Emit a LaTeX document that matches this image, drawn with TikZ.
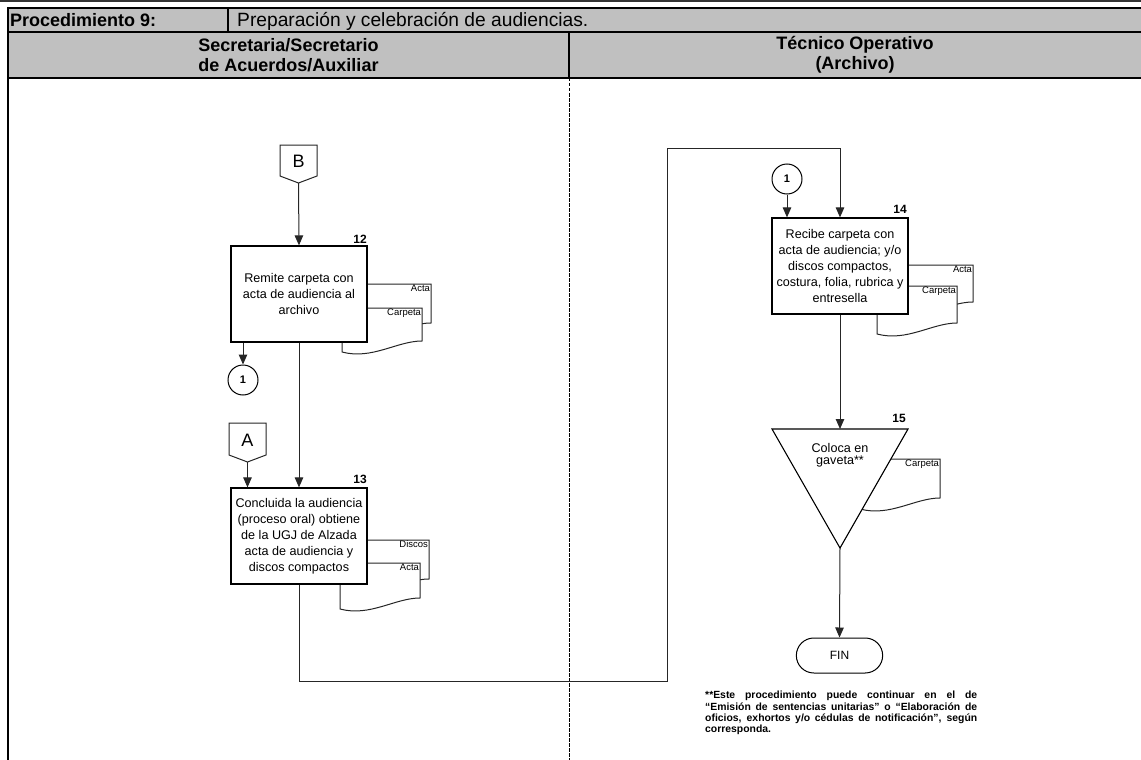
\documentclass[tikz,border=0pt]{standalone}
\usepackage{fontspec}
\setmainfont{Liberation Sans}
\usetikzlibrary{arrows.meta,shapes.misc}
\definecolor{hdrgray}{HTML}{C0C0C0}
\definecolor{topline}{HTML}{333333}
% document symbol: name, left, top, right, base of wave, label
\newcommand\docsheet[6]{%
  \draw[docline] (#2,#3) -- (#4,#3) -- (#4,#5-6)
    .. controls (#4-25,#5-6) and (#2+30,#5+13) .. (#2,#5+5) -- cycle;
  \node[doclabel] (#1) at (#4,#3) {#6};
}
\begin{document}
\begin{tikzpicture}[x=1pt,y=-1pt,
  frame/.style={line width=1.4pt,black},
  lanesep/.style={line width=0.8pt,black,dash pattern=on 3.5pt off 1.5pt},
  flow/.style={line width=1pt,black!85},
  arr/.style={flow,-{Triangle[length=10pt,width=8.5pt]}},
  stepbox/.style={draw,line width=1.2pt,fill=white,minimum width=136pt,minimum height=96pt,
    align=center,inner sep=2pt,font=\fontsize{12.6}{16}\selectfont},
  stepnum/.style={font=\bfseries\fontsize{12}{14}\selectfont,anchor=base east,inner sep=0pt},
  doclabel/.style={font=\fontsize{9.5}{10}\selectfont,anchor=north east,inner sep=0.8pt},
  docline/.style={line width=1pt,black!85,fill=white},
  offpage/.style={flow,fill=white},
  letter/.style={font=\fontsize{18}{20}\selectfont,inner sep=0pt},
  oncirc/.style={circle,draw,line width=1pt,fill=white,minimum size=30pt,inner sep=0pt,
    font=\bfseries\fontsize{11}{13}\selectfont},
  hdrtext/.style={font=\bfseries\fontsize{18}{20}\selectfont,align=center},
]
\useasboundingbox (0,0) rectangle (1141,760);

% ---------- header ----------
\fill[hdrgray] (8,8) rectangle (1141,78);
\draw[line width=2.2pt,topline] (0,1) -- (1141,1);
\draw[frame] (1141,8) -- (8,8) -- (8,760);
\draw[frame] (8,32) -- (1141,32);
\draw[frame] (8,78) -- (1141,78);
\draw[frame] (228,8) -- (228,32);
\draw[frame] (569,32) -- (569,78);
\draw[lanesep] (569,78) -- (569,760);

\node[anchor=base west,inner sep=0pt,font=\bfseries\fontsize{18}{20}\selectfont] (proc) at (10,26.5) {Procedimiento 9:};
\node[anchor=base west,inner sep=0pt,font=\fontsize{19.2}{21}\selectfont] (title) at (237,26.7) {Preparación y celebración de audiencias.};
\node[hdrtext] (lane1) at (288.5,55) {Secretaria/Secretario\\de Acuerdos/Auxiliar};
\node[hdrtext] (lane2) at (855,55) {Técnico Operativo\\(Archivo)};

% ---------- left lane ----------
% off-page connector B
\draw[offpage] (280,145) -- (317,145) -- (317,176) -- (298.5,183) -- (280,176) -- cycle;
\node[letter] (B) at (298.5,161) {B};
\coordinate (Btip) at (298.5,183);

% step 12 with its documents
\docsheet{d12a}{351}{284}{431}{329}{Acta}
\docsheet{d12c}{342}{308}{422}{347}{Carpeta}
\node[stepbox] (n12) at (299,294) {Remite carpeta con\\acta de audiencia al\\archivo};
\node[stepnum] (s12) at (367,243) {12};

\draw[arr] (Btip) -- (n12.north);

% connector 1 (out)
\node[oncirc] (c1L) at (243,380) {1};
\draw[arr] (n12.south -| c1L.north) -- (c1L.north);

% off-page connector A
\draw[offpage] (229,423) -- (266,423) -- (266,455) -- (247.5,462) -- (229,455) -- cycle;
\node[letter] (A) at (247.5,440) {A};
\coordinate (Atip) at (247.5,462);

% step 13 with its documents
\docsheet{d13d}{349}{540}{429}{585}{Discos}
\docsheet{d13a}{340}{563}{420}{604}{Acta}
\node[stepbox] (n13) at (299,536) {Concluida la audiencia\\(proceso oral) obtiene\\de la UGJ de Alzada\\acta de audiencia y\\discos compactos};
\node[stepnum] (s13) at (367,483) {13};

\draw[arr] (n12.south) -- (n13.north);
\draw[arr] (Atip) -- (Atip |- n13.north);

% ---------- right lane ----------
% step 14 with its documents
\docsheet{d14a}{893}{265}{973}{308}{Acta}
\docsheet{d14c}{877}{286}{957}{329}{Carpeta}
\node[stepbox] (n14) at (840,266) {Recibe carpeta con\\acta de audiencia; y/o\\discos compactos,\\costura, folia, rubrica y\\entresella};
\node[stepnum] (s14) at (907,213) {14};

% connector 1 (in)
\node[oncirc] (c1R) at (787,179) {1};
\draw[arr] (c1R.south) -- (c1R.south |- n14.north);

% route from step 13 to step 14
\coordinate (j1) at (667,681);
\coordinate (j2) at (667,148);
\draw[arr] (n13.south) |- (j1) -- (j2) -| (n14.north);

% step 15: archive (inverted triangle) with its document
\docsheet{d15c}{860}{459}{940}{504}{Carpeta}
\coordinate (t15l) at (772,429);
\coordinate (t15r) at (908,429);
\coordinate (t15b) at (840,548);
\coordinate (t15t) at (840,429);
\draw[line width=1.1pt,black,fill=white] (t15l) -- (t15r) -- (t15b) -- cycle;
\node[align=center,inner sep=0pt,font=\fontsize{12.6}{12.5}\selectfont] (n15) at (840,455) {Coloca en\\gaveta**};
\node[stepnum] (s15) at (906,422) {15};

\draw[arr] (n14.south) -- (t15t);

% end terminator
\node[draw,rounded rectangle,line width=1pt,minimum width=93pt,minimum height=35pt,
  font=\fontsize{12}{14}\selectfont] (fin) at (839.5,655.5) {FIN};
\draw[arr] (t15b) -- (fin.north);

% footnote
\node[anchor=north west,inner sep=0pt,text width=272pt,align=justify,
  font=\bfseries\fontsize{10.4}{11.4}\selectfont] (note) at (705,691)
  {**Este procedimiento puede continuar en el de\linebreak
   “Emisión de sentencias unitarias” o “Elaboración de\linebreak
   oficios, exhortos y/o cédulas de notificación", según\linebreak
   corresponda.};
\end{tikzpicture}
\end{document}
